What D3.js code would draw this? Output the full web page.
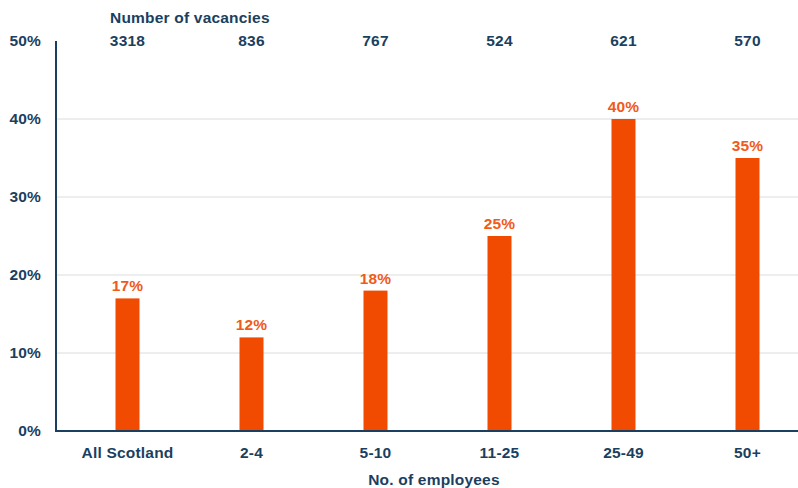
<!DOCTYPE html>
<html>
<head>
<meta charset="utf-8">
<script src="https://cdn.jsdelivr.net/npm/d3@7"></script>
<style>
  html, body { margin: 0; padding: 0; background: #fff; }
  svg text { font-family: "Liberation Sans", Arial, Helvetica, sans-serif; font-weight: bold; letter-spacing: 0.2px; }
</style>
</head>
<body>
<svg id="chart" width="798" height="488"></svg>
<script>
// Share of vacancies by employer size band
const categories = ["All Scotland", "2-4", "5-10", "11-25", "25-49", "50+"];
const shares = [17, 12, 18, 25, 40, 35];
const vacancies = [3318, 836, 767, 524, 621, 570];
const yTicks = [0, 10, 20, 30, 40, 50];

const navy = "#1b3f60";
const orange = "#f04b00";
const labelOrange = "#f05a1c";
const fs = 15.5;

const svg = d3.select("#chart");
const axisX = 56, baseY = 431, topY = 41;

const x = d3.scaleBand().domain(categories).range([65.5, 809.5]).paddingInner(0).paddingOuter(0);
const y = d3.scaleLinear().domain([0, 50]).range([baseY, topY]);
const barW = 24;
const cx = d => x(d) + x.bandwidth() / 2;

// gridlines
svg.append("g").selectAll("line")
  .data(yTicks.filter(t => t > 0 && t < 50))
  .join("line")
  .attr("x1", axisX).attr("x2", 798)
  .attr("y1", d => y(d)).attr("y2", d => y(d))
  .attr("stroke", "#dcdcdc").attr("stroke-width", 1);

// y tick labels
svg.append("g").selectAll("text")
  .data(yTicks)
  .join("text")
  .attr("x", 41).attr("y", d => y(d))
  .attr("dy", "0.35em")
  .attr("text-anchor", "end")
  .attr("font-size", fs)
  .attr("fill", navy)
  .text(d => d + "%");

// bars
svg.append("g").selectAll("rect")
  .data(categories)
  .join("rect")
  .attr("x", d => cx(d) - barW / 2)
  .attr("width", barW)
  .attr("y", (d, i) => y(shares[i]))
  .attr("height", (d, i) => baseY - y(shares[i]))
  .attr("fill", orange);

// value labels
svg.append("g").selectAll("text")
  .data(categories)
  .join("text")
  .attr("x", cx)
  .attr("y", (d, i) => y(shares[i]) - 7)
  .attr("text-anchor", "middle")
  .attr("font-size", fs)
  .attr("fill", labelOrange)
  .text((d, i) => shares[i] + "%");

// axis lines
svg.append("line")
  .attr("x1", axisX).attr("x2", axisX)
  .attr("y1", topY).attr("y2", baseY + 1)
  .attr("stroke", navy).attr("stroke-width", 2);
svg.append("line")
  .attr("x1", axisX - 1).attr("x2", 798)
  .attr("y1", baseY).attr("y2", baseY)
  .attr("stroke", navy).attr("stroke-width", 2);

// category labels
svg.append("g").selectAll("text")
  .data(categories)
  .join("text")
  .attr("x", cx)
  .attr("y", 458)
  .attr("text-anchor", "middle")
  .attr("font-size", fs)
  .attr("fill", navy)
  .text(d => d);

// vacancy counts along the top
svg.append("g").selectAll("text")
  .data(categories)
  .join("text")
  .attr("x", cx)
  .attr("y", topY)
  .attr("dy", "0.35em")
  .attr("text-anchor", "middle")
  .attr("font-size", fs)
  .attr("fill", navy)
  .text((d, i) => vacancies[i]);

svg.append("text")
  .attr("x", 110).attr("y", 23)
  .attr("font-size", fs)
  .attr("fill", navy)
  .text("Number of vacancies");

svg.append("text")
  .attr("x", 434).attr("y", 485)
  .attr("text-anchor", "middle")
  .attr("font-size", fs)
  .attr("fill", navy)
  .text("No. of employees");
</script>
</body>
</html>
